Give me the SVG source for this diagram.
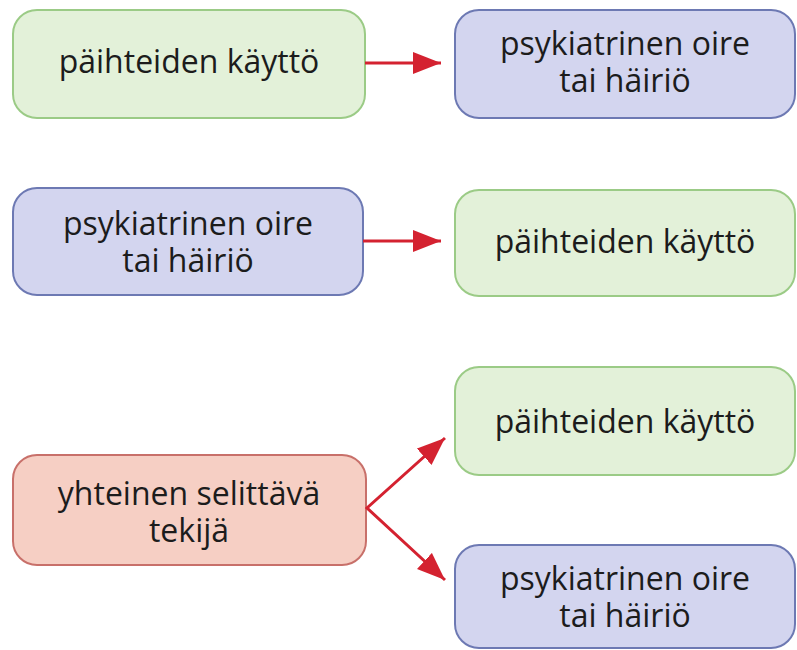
<svg xmlns="http://www.w3.org/2000/svg" width="797" height="650" viewBox="0 0 797 650">
<defs>
<style>
.t{font-family:"Open Sans","Noto Sans","Liberation Sans",sans-serif;font-size:32px;fill:#1c1c1c;text-anchor:middle}
.g{fill:#e3f1d9;stroke:#9bcb86;stroke-width:2}
.b{fill:#d3d5ef;stroke:#6d79b3;stroke-width:2}
.r{fill:#f6cfc4;stroke:#c8706a;stroke-width:2}
.c{stroke:#d42230;stroke-width:3;fill:none}
</style>
<marker id="ah" markerWidth="28" markerHeight="22" refX="28" refY="11" orient="auto" markerUnits="userSpaceOnUse" viewBox="0 0 28 22">
<path d="M0,0 L28,11 L0,22 z" fill="#d42230"/>
</marker>
<marker id="ahs" markerWidth="28" markerHeight="22" refX="0" refY="11" orient="auto" markerUnits="userSpaceOnUse" viewBox="0 0 28 22">
<path d="M28,0 L0,11 L28,22 z" fill="#d42230"/>
</marker>
</defs>
<rect width="797" height="650" fill="#fff"/>
<g id="n1"><rect class="g" x="13" y="10" width="352" height="108" rx="24"/><text class="t" x="189" y="73">päihteiden käyttö</text></g>
<g id="n2"><rect class="b" x="455" y="10" width="340" height="108" rx="24"/><text class="t" x="625" y="55">psykiatrinen oire<tspan x="625" dy="37">tai häiriö</tspan></text></g>
<g id="n3"><rect class="b" x="13" y="188" width="350" height="107" rx="24"/><text class="t" x="188" y="235">psykiatrinen oire<tspan x="188" dy="37">tai häiriö</tspan></text></g>
<g id="n4"><rect class="g" x="455" y="190" width="340" height="106" rx="24"/><text class="t" x="625" y="253">päihteiden käyttö</text></g>
<g id="n5"><rect class="r" x="13" y="455" width="353" height="110" rx="24"/><text class="t" x="189" y="505">yhteinen selittävä<tspan x="189" dy="37">tekijä</tspan></text></g>
<g id="n6"><rect class="g" x="455" y="367" width="340" height="108" rx="24"/><text class="t" x="625" y="433">päihteiden käyttö</text></g>
<g id="n7"><rect class="b" x="455" y="545" width="340" height="103" rx="24"/><text class="t" x="625" y="590">psykiatrinen oire<tspan x="625" dy="37">tai häiriö</tspan></text></g>
<g id="connectors">
<line class="c" x1="365" y1="63" x2="441" y2="63" marker-end="url(#ah)"/>
<line class="c" x1="363" y1="241" x2="441" y2="241" marker-end="url(#ah)"/>
<polyline class="c" points="445,438 367,508 445,580" marker-start="url(#ahs)" marker-end="url(#ah)"/>
</g>
</svg>
